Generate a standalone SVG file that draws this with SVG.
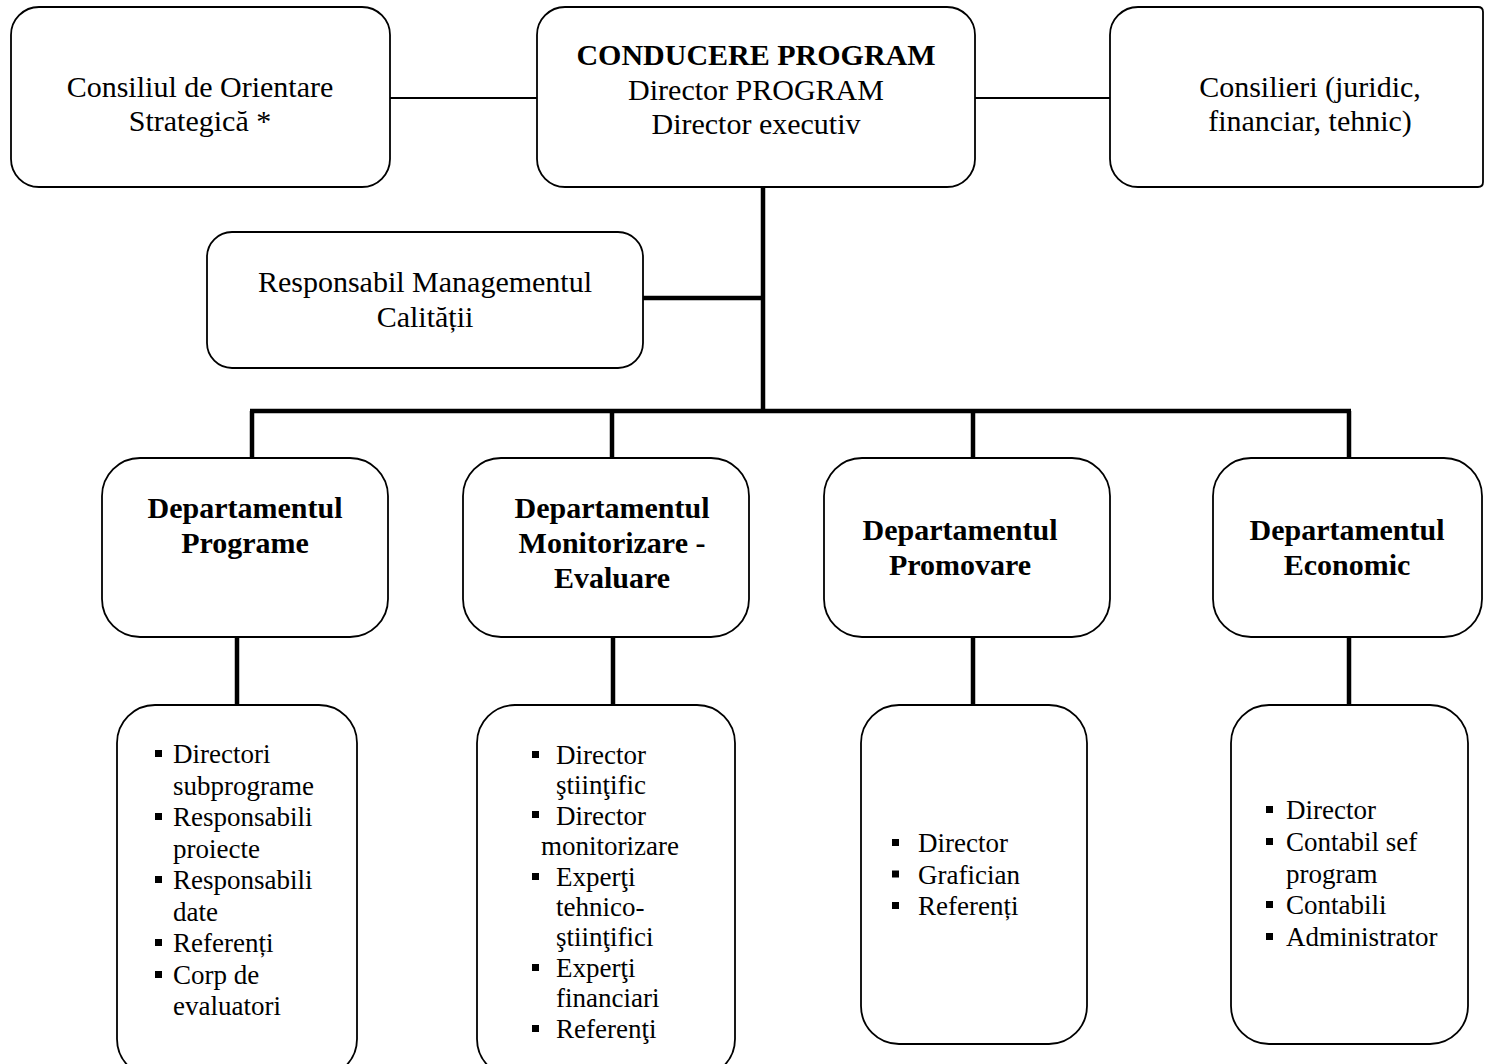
<svg xmlns="http://www.w3.org/2000/svg" width="1485" height="1064" viewBox="0 0 1485 1064">
<style>
.box{fill:#fff;stroke:#000;stroke-width:1.8}
.thin{stroke:#000;stroke-width:1.8;fill:none}
.thick{stroke:#000;stroke-width:4.5;fill:none}
.t{font-family:"Liberation Serif","Times New Roman",serif;font-size:30px;fill:#000;text-anchor:middle}
.tb{font-family:"Liberation Serif","Times New Roman",serif;font-size:30px;font-weight:bold;fill:#000;text-anchor:middle}
.l{font-family:"Liberation Serif","Times New Roman",serif;font-size:27px;fill:#000}
.b{fill:#000}
</style>
<rect width="1485" height="1064" fill="#fff"/>
<g id="connectors">
<line class="thin" x1="390" y1="98" x2="537" y2="98"/>
<line class="thin" x1="975" y1="98" x2="1110" y2="98"/>
<line class="thick" x1="763" y1="187" x2="763" y2="411"/>
<line class="thick" x1="643" y1="298" x2="763" y2="298"/>
<line class="thick" x1="250" y1="411" x2="1351" y2="411"/>
<line class="thick" x1="252" y1="411" x2="252" y2="458"/>
<line class="thick" x1="612" y1="411" x2="612" y2="458"/>
<line class="thick" x1="973" y1="411" x2="973" y2="458"/>
<line class="thick" x1="1349" y1="411" x2="1349" y2="458"/>
<line class="thick" x1="237" y1="637" x2="237" y2="705"/>
<line class="thick" x1="613" y1="637" x2="613" y2="705"/>
<line class="thick" x1="973" y1="637" x2="973" y2="705"/>
<line class="thick" x1="1349" y1="637" x2="1349" y2="705"/>
</g>
<g id="consiliul">
<rect class="box" x="11" y="7" width="379" height="180" rx="28"/>
<text class="t" x="200" y="97">Consiliul de Orientare</text>
<text class="t" x="200" y="131">Strategică *</text>
</g>
<g id="conducere">
<rect class="box" x="537" y="7" width="438" height="180" rx="28"/>
<text class="tb" x="756" y="65">CONDUCERE PROGRAM</text>
<text class="t" x="756" y="100">Director PROGRAM</text>
<text class="t" x="756" y="134">Director executiv</text>
</g>
<g id="consilieri">
<path class="box" d="M1138 7 H1478 Q1483 7 1483 12 V182 Q1483 187 1478 187 H1138 A28 28 0 0 1 1110 159 V35 A28 28 0 0 1 1138 7 Z"/>
<text class="t" x="1310" y="97">Consilieri (juridic,</text>
<text class="t" x="1310" y="131">financiar, tehnic)</text>
</g>
<g id="rmc">
<rect class="box" x="207" y="232" width="436" height="136" rx="25"/>
<text class="t" x="425" y="292">Responsabil Managementul</text>
<text class="t" x="425" y="327">Calității</text>
</g>
<g id="dep-programe">
<rect class="box" x="102" y="458" width="286" height="179" rx="38"/>
<text class="tb" x="245" y="518">Departamentul</text>
<text class="tb" x="245" y="553">Programe</text>
</g>
<g id="dep-monitorizare">
<rect class="box" x="463" y="458" width="286" height="179" rx="38"/>
<text class="tb" x="612" y="518">Departamentul</text>
<text class="tb" x="612" y="553">Monitorizare -</text>
<text class="tb" x="612" y="588">Evaluare</text>
</g>
<g id="dep-promovare">
<rect class="box" x="824" y="458" width="286" height="179" rx="38"/>
<text class="tb" x="960" y="540">Departamentul</text>
<text class="tb" x="960" y="575">Promovare</text>
</g>
<g id="dep-economic">
<rect class="box" x="1213" y="458" width="269" height="179" rx="38"/>
<text class="tb" x="1347" y="540">Departamentul</text>
<text class="tb" x="1347" y="575">Economic</text>
</g>
<g id="list-programe">
<rect class="box" x="117" y="705" width="240" height="372" rx="38"/>
<rect class="b" x="155" y="750" width="7" height="7"/>
<rect class="b" x="155" y="813" width="7" height="7"/>
<rect class="b" x="155" y="876" width="7" height="7"/>
<rect class="b" x="155" y="939" width="7" height="7"/>
<rect class="b" x="155" y="971" width="7" height="7"/>
<text class="l" x="173" y="763">Directori</text>
<text class="l" x="173" y="794.5">subprograme</text>
<text class="l" x="173" y="826">Responsabili</text>
<text class="l" x="173" y="857.5">proiecte</text>
<text class="l" x="173" y="889">Responsabili</text>
<text class="l" x="173" y="920.5">date</text>
<text class="l" x="173" y="952">Referenți</text>
<text class="l" x="173" y="983.5">Corp de</text>
<text class="l" x="173" y="1015">evaluatori</text>
</g>
<g id="list-monitorizare">
<rect class="box" x="477" y="705" width="258" height="372" rx="38"/>
<rect class="b" x="532" y="751" width="7" height="7"/>
<rect class="b" x="532" y="811" width="7" height="7"/>
<rect class="b" x="532" y="873" width="7" height="7"/>
<rect class="b" x="532" y="964" width="7" height="7"/>
<rect class="b" x="532" y="1025" width="7" height="7"/>
<text class="l" x="556" y="764">Director</text>
<text class="l" x="556" y="794.4">ştiinţific</text>
<text class="l" x="556" y="824.8">Director</text>
<text class="l" x="541" y="855.2">monitorizare</text>
<text class="l" x="556" y="885.6">Experţi</text>
<text class="l" x="556" y="916">tehnico-</text>
<text class="l" x="556" y="946.4">ştiinţifici</text>
<text class="l" x="556" y="976.8">Experţi</text>
<text class="l" x="556" y="1007.2">financiari</text>
<text class="l" x="556" y="1037.6">Referenţi</text>
</g>
<g id="list-promovare">
<rect class="box" x="861" y="705" width="226" height="339" rx="38"/>
<rect class="b" x="892" y="839" width="7" height="7"/>
<rect class="b" x="892" y="870.5" width="7" height="7"/>
<rect class="b" x="892" y="902" width="7" height="7"/>
<text class="l" x="918" y="852">Director</text>
<text class="l" x="918" y="883.5">Grafician</text>
<text class="l" x="918" y="915">Referenți</text>
</g>
<g id="list-economic">
<rect class="box" x="1231" y="705" width="237" height="339" rx="38"/>
<rect class="b" x="1266" y="806" width="7" height="7"/>
<rect class="b" x="1266" y="838" width="7" height="7"/>
<rect class="b" x="1266" y="901" width="7" height="7"/>
<rect class="b" x="1266" y="933" width="7" height="7"/>
<text class="l" x="1286" y="819">Director</text>
<text class="l" x="1286" y="851">Contabil sef</text>
<text class="l" x="1286" y="883">program</text>
<text class="l" x="1286" y="914">Contabili</text>
<text class="l" x="1286" y="946">Administrator</text>
</g>
</svg>
